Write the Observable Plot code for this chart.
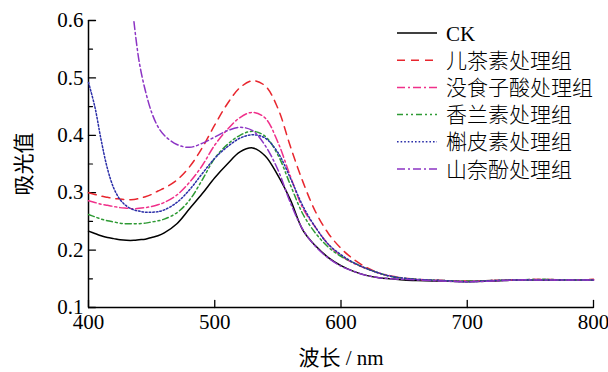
<!DOCTYPE html>
<html><head><meta charset="utf-8">
<script src="https://cdn.jsdelivr.net/npm/d3@7"></script>
<script src="https://cdn.jsdelivr.net/npm/@observablehq/plot@0.6"></script>
<style>
body{margin:0;background:#fff}
#chart{position:relative;width:608px;height:372px;overflow:hidden}
#chart svg{display:block}
</style></head><body><div id="chart"></div>
<script>
// wavelength (nm)
const wavelengths = [400,405,410,415,420,425,430,436,440,445,450,455,460,470,480,490,500,510,520,530,540,550,560,570,580,590,600,610,620,630,640,650,660,680,700,720,740,760,780,800];
const seriesNames = ["CK","儿茶素处理组","没食子酸处理组","香兰素处理组","槲皮素处理组","山奈酚处理组"];
const ck        = [.233,.229,.225,.222,.220,.218,.217,.217,.218,.219,.222,.225,.230,.246,.272,.298,.326,.350,.371,.378,.364,.330,.287,.234,.207,.187,.173,.163,.156,.152,.150,.148,.147,.146,.145,.146,.148,.148,.148,.148];
const catechin  = [.300,.297,.294,.292,.290,.289,.288,.288,.290,.293,.297,.303,.308,.322,.345,.378,.418,.455,.483,.495,.486,.447,.380,.318,.266,.229,.203,.184,.170,.160,.154,.151,.149,.147,.146,.147,.148,.149,.148,.149];
const gallic    = [.286,.283,.280,.278,.276,.274,.273,.272,.273,.274,.276,.279,.283,.296,.318,.347,.383,.410,.431,.440,.430,.388,.328,.272,.239,.210,.190,.177,.168,.160,.155,.151,.149,.147,.146,.147,.148,.149,.148,.148];
const vanillin  = [.262,.258,.254,.251,.249,.247,.246,.246,.246,.247,.249,.251,.254,.265,.287,.322,.360,.384,.400,.407,.398,.366,.313,.262,.229,.205,.189,.178,.168,.160,.154,.151,.149,.147,.146,.147,.148,.149,.148,.148];
const quercetin = [.492,.450,.392,.342,.308,.288,.277,.270,.268,.266,.266,.267,.270,.283,.305,.333,.360,.380,.395,.401,.395,.370,.325,.276,.239,.210,.192,.178,.168,.160,.154,.151,.149,.147,.145,.147,.148,.148,.148,.148];
const kaempferol= [null,null,null,null,null,null,null,.598,.530,.478,.440,.415,.400,.384,.379,.386,.397,.408,.414,.408,.382,.340,.282,.235,.206,.186,.172,.163,.156,.152,.150,.149,.148,.146,.145,.146,.148,.148,.148,.148];
const yMajorTicks = [0.1,0.2,0.3,0.4,0.5,0.6];
const yMinorTicks = [0.15,0.25,0.35,0.45,0.55];
const xTicks = [400,500,600,700,800];

const colors = ["#000000","#e8262e","#f0308a","#2e9a34","#2a2ea8","#8c34c4"];
const dashes = [null,"8,6","8,3,2,3","6,3,2,3,2,3","1.6,2","8,3,2,3"];
const allValues = [ck,catechin,gallic,vanillin,quercetin,kaempferol];

const rows = [];
allValues.forEach((vals,si)=>{
  vals.forEach((v,i)=>{ if (v!=null) rows.push({s:si, x:wavelengths[i], y:v}); });
});

const lineMarks = allValues.map((_,si)=>Plot.line(rows.filter(d=>d.s===si),{
  x:"x", y:"y", curve:"catmull-rom", stroke:colors[si], strokeWidth:1.5,
  strokeDasharray:dashes[si]||undefined
}));

// inward tick shape for vectors
const tickShape = {draw(context, l){ context.moveTo(0,0); context.lineTo(0,-l); }};

const chart = Plot.plot({
  width:608, height:372,
  marginLeft:88, marginRight:15, marginTop:20, marginBottom:65,
  x:{domain:[400,800]},
  y:{domain:[0.1,0.6]},
  style:{fontFamily:"'Liberation Serif','Noto Sans CJK SC',serif", fontSize:"21px", color:"#000", background:"#fff", overflow:"visible"},
  marks:[
    Plot.axisY(yMajorTicks,{tickSize:0, tickPadding:5, tickFormat:d3.format(".1f"), label:"吸光值", labelAnchor:"center", labelOffset:72, labelArrow:"none"}),
    Plot.axisX(xTicks,{tickSize:0, tickPadding:7, tickFormat:d=>String(d), label:"波长 / nm", labelAnchor:"center", labelOffset:57, labelArrow:"none"}),
    Plot.vector(yMajorTicks,{y:d=>d, frameAnchor:"left", length:7, rotate:90, anchor:"start", shape:tickShape, stroke:"#000", strokeWidth:1.3}),
    Plot.vector(yMinorTicks,{y:d=>d, frameAnchor:"left", length:4, rotate:90, anchor:"start", shape:tickShape, stroke:"#000", strokeWidth:1.2}),
    Plot.vector(xTicks,{x:d=>d, frameAnchor:"bottom", length:7, rotate:0, anchor:"start", shape:tickShape, stroke:"#000", strokeWidth:1.3}),
    Plot.ruleX([400],{y1:0.1,y2:0.6,stroke:"#000",strokeWidth:1.5}),
    Plot.ruleY([0.1],{x1:400,x2:800,stroke:"#000",strokeWidth:1.5}),
    ...lineMarks
  ]
});
document.getElementById("chart").appendChild(chart);

// legend overlay
const leg = d3.select("#chart").append("svg")
  .attr("width",220).attr("height",180)
  .style("position","absolute").style("left","390px").style("top","16px");
seriesNames.forEach((name,i)=>{
  const cy = 17 + i*27.2;
  leg.append("line").attr("x1",7).attr("x2",47).attr("y1",cy).attr("y2",cy)
    .attr("stroke",colors[i]).attr("stroke-width",1.5)
    .attr("stroke-dasharray",dashes[i]||null);
  leg.append("text").attr("x",56).attr("y",cy).attr("dy","0.36em")
    .attr("font-family", i===0 ? "'Liberation Serif',serif" : "'Noto Sans CJK SC',sans-serif")
    .attr("font-weight", i===0 ? 400 : 300)
    .attr("font-size","21px").attr("fill","#000").text(name);
});
</script>
</body></html>
